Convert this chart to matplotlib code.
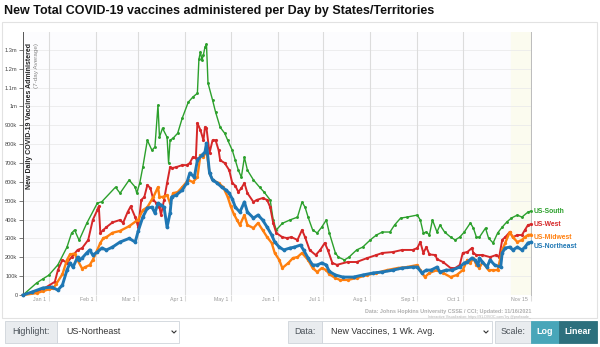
import matplotlib
matplotlib.use('Agg')
import matplotlib.pyplot as plt
import pandas as pd
from matplotlib.patches import Rectangle
from matplotlib.lines import Line2D

plt.rcParams['font.family'] = ['Liberation Sans', 'DejaVu Sans']

# values in thousands of doses per day (7-day average)
south_dates = ['2020-12-15', '2020-12-24', '2020-12-28', '2021-01-01', '2021-01-07', '2021-01-13',
               '2021-01-16', '2021-01-18', '2021-01-21', '2021-01-26', '2021-02-02', '2021-02-05',
               '2021-02-14', '2021-02-17', '2021-02-23', '2021-02-27', '2021-02-28', '2021-03-02',
               '2021-03-04', '2021-03-07', '2021-03-10', '2021-03-12', '2021-03-14', '2021-03-15',
               '2021-03-17', '2021-03-20', '2021-03-21', '2021-03-22', '2021-03-24', '2021-03-27',
               '2021-03-30', '2021-04-03', '2021-04-06', '2021-04-09', '2021-04-10', '2021-04-11',
               '2021-04-12', '2021-04-13', '2021-04-14', '2021-04-15', '2021-04-16', '2021-04-19',
               '2021-04-21', '2021-04-24', '2021-04-27', '2021-04-29', '2021-05-02', '2021-05-04',
               '2021-05-06', '2021-05-08', '2021-05-10', '2021-05-12', '2021-05-16', '2021-05-20',
               '2021-05-23', '2021-05-27', '2021-05-29', '2021-05-31', '2021-06-04', '2021-06-09',
               '2021-06-14', '2021-06-17', '2021-06-19', '2021-06-21', '2021-06-24', '2021-06-27',
               '2021-06-30', '2021-07-03', '2021-07-05', '2021-07-09', '2021-07-11', '2021-07-15',
               '2021-07-18', '2021-07-23', '2021-07-27', '2021-08-01', '2021-08-05', '2021-08-09',
               '2021-08-14', '2021-08-17', '2021-08-21', '2021-08-25', '2021-09-01', '2021-09-03',
               '2021-09-05', '2021-09-07', '2021-09-09', '2021-09-11', '2021-09-14', '2021-09-16',
               '2021-09-19', '2021-09-23', '2021-09-26', '2021-09-29', '2021-10-02', '2021-10-06',
               '2021-10-08', '2021-10-10', '2021-10-12', '2021-10-16', '2021-10-18', '2021-10-21',
               '2021-10-24', '2021-10-27', '2021-10-30', '2021-11-02', '2021-11-06', '2021-11-09',
               '2021-11-13', '2021-11-15']
south_vals = [0, 64, 85, 105, 160, 254,
              328, 345, 290, 380, 487, 495,
              572, 540, 610, 572, 540, 594,
              678, 821, 768, 785, 1007, 837,
              885, 837, 700, 821, 832, 858,
              938, 1023, 1050, 1070, 1250, 1290,
              1245, 1275, 1315, 1330, 1124, 1034,
              970, 890, 858, 821, 768, 715,
              662, 625, 731, 662, 610, 572,
              546, 504, 398, 345, 380, 398,
              413, 493, 466, 413, 345, 329,
              360, 398, 329, 223, 201, 186,
              201, 239, 254, 292, 318, 334,
              334, 371, 408, 413, 424, 398,
              329, 334, 318, 398, 334, 371,
              334, 307, 292, 307, 334, 382,
              355, 307, 307, 355, 302, 276,
              329, 360, 387, 408, 424, 413,
              440, 445]

west_dates = ['2020-12-15', '2020-12-24', '2020-12-28', '2021-01-01', '2021-01-05', '2021-01-07',
              '2021-01-10', '2021-01-13', '2021-01-16', '2021-01-20', '2021-01-23', '2021-01-27',
              '2021-01-30', '2021-02-02', '2021-02-03', '2021-02-04', '2021-02-06', '2021-02-08',
              '2021-02-12', '2021-02-17', '2021-02-19', '2021-02-22', '2021-02-24', '2021-02-27',
              '2021-03-01', '2021-03-03', '2021-03-05', '2021-03-07', '2021-03-09', '2021-03-11',
              '2021-03-13', '2021-03-15', '2021-03-16', '2021-03-18', '2021-03-20', '2021-03-22',
              '2021-03-23', '2021-03-26', '2021-03-30', '2021-04-02', '2021-04-04', '2021-04-06',
              '2021-04-08', '2021-04-09', '2021-04-11', '2021-04-13', '2021-04-14', '2021-04-15',
              '2021-04-17', '2021-04-19', '2021-04-21', '2021-04-23', '2021-04-24', '2021-04-27',
              '2021-04-30', '2021-05-02', '2021-05-04', '2021-05-06', '2021-05-08', '2021-05-10',
              '2021-05-12', '2021-05-16', '2021-05-18', '2021-05-22', '2021-05-25', '2021-05-27',
              '2021-05-29', '2021-05-31', '2021-06-04', '2021-06-07', '2021-06-10', '2021-06-14',
              '2021-06-17', '2021-06-19', '2021-06-22', '2021-06-26', '2021-06-29', '2021-07-02',
              '2021-07-04', '2021-07-07', '2021-07-10', '2021-07-17', '2021-07-23', '2021-07-30',
              '2021-08-05', '2021-08-09', '2021-08-16', '2021-08-22', '2021-08-29', '2021-09-01',
              '2021-09-03', '2021-09-05', '2021-09-07', '2021-09-09', '2021-09-13', '2021-09-14',
              '2021-09-18', '2021-09-23', '2021-09-26', '2021-09-29', '2021-10-01', '2021-10-04',
              '2021-10-07', '2021-10-08', '2021-10-10', '2021-10-14', '2021-10-19', '2021-10-23',
              '2021-10-25', '2021-10-27', '2021-10-29', '2021-11-01', '2021-11-03', '2021-11-06',
              '2021-11-09', '2021-11-11', '2021-11-13', '2021-11-15']
west_vals = [0, 20, 30, 50, 70, 132,
             186, 170, 201, 239, 249, 292,
             398, 450, 470, 329, 345, 360,
             385, 398, 382, 440, 470, 413,
             360, 504, 520, 583, 567, 504,
             487, 466, 424, 504, 594, 678,
             673, 678, 689, 689, 700, 731,
             726, 912, 875, 821, 890, 885,
             753, 821, 821, 768, 715, 700,
             662, 594, 580, 546, 567, 594,
             540, 493, 504, 514, 504, 466,
             382, 329, 307, 302, 307, 292,
             345, 307, 239, 212, 239, 276,
             239, 170, 160, 175, 175, 196,
             212, 223, 228, 239, 239, 249,
             281, 223, 254, 215, 212, 190,
             175, 143, 143, 159, 223, 228,
             249, 223, 212, 212, 201, 212,
             201, 292, 307, 334, 307, 318,
             318, 345, 371, 375]

midwest_dates = ['2020-12-15', '2020-12-24', '2020-12-28', '2021-01-01', '2021-01-04', '2021-01-06',
                 '2021-01-10', '2021-01-13', '2021-01-15', '2021-01-18', '2021-01-20', '2021-01-23',
                 '2021-01-25', '2021-01-28', '2021-01-30', '2021-02-02', '2021-02-04', '2021-02-06',
                 '2021-02-08', '2021-02-12', '2021-02-17', '2021-02-23', '2021-03-01', '2021-03-04',
                 '2021-03-07', '2021-03-11', '2021-03-14', '2021-03-15', '2021-03-17', '2021-03-20',
                 '2021-03-22', '2021-03-24', '2021-03-27', '2021-03-30', '2021-04-03', '2021-04-06',
                 '2021-04-09', '2021-04-11', '2021-04-13', '2021-04-15', '2021-04-17', '2021-04-19',
                 '2021-04-23', '2021-04-26', '2021-04-29', '2021-05-01', '2021-05-03', '2021-05-05',
                 '2021-05-07', '2021-05-10', '2021-05-12', '2021-05-16', '2021-05-19', '2021-05-22',
                 '2021-05-25', '2021-05-28', '2021-05-30', '2021-06-02', '2021-06-04', '2021-06-08',
                 '2021-06-11', '2021-06-14', '2021-06-17', '2021-06-21', '2021-06-24', '2021-06-27',
                 '2021-06-30', '2021-07-03', '2021-07-05', '2021-07-09', '2021-07-12', '2021-07-17',
                 '2021-07-23', '2021-07-30', '2021-08-05', '2021-08-12', '2021-08-19', '2021-08-25',
                 '2021-09-01', '2021-09-03', '2021-09-06', '2021-09-09', '2021-09-14', '2021-09-18',
                 '2021-09-23', '2021-09-27', '2021-10-01', '2021-10-04', '2021-10-06', '2021-10-08',
                 '2021-10-10', '2021-10-12', '2021-10-14', '2021-10-18', '2021-10-21', '2021-10-24',
                 '2021-10-27', '2021-10-29', '2021-11-01', '2021-11-03', '2021-11-06', '2021-11-09',
                 '2021-11-11', '2021-11-13', '2021-11-15']
midwest_vals = [0, 10, 20, 30, 35, 60,
                110, 186, 215, 220, 185, 140,
                148, 159, 186, 239, 276, 302,
                307, 330, 340, 365, 400, 450,
                466, 520, 572, 520, 520, 530,
                487, 540, 546, 572, 610, 599,
                625, 742, 731, 768, 647, 610,
                594, 572, 520, 470, 430, 400,
                371, 424, 371, 355, 382, 345,
                307, 276, 223, 186, 143, 170,
                196, 201, 223, 186, 143, 122,
                143, 132, 110, 90, 80, 80,
                90, 106, 117, 132, 143, 148,
                159, 132, 95, 117, 132, 117,
                95, 106, 132, 186, 170, 196,
                159, 143, 175, 132, 132, 132,
                239, 276, 334, 307, 281, 292,
                307, 318, 320]

northeast_dates = ['2020-12-15', '2020-12-21', '2020-12-28', '2021-01-03', '2021-01-07', '2021-01-10',
                   '2021-01-13', '2021-01-15', '2021-01-17', '2021-01-20', '2021-01-21', '2021-01-23',
                   '2021-01-26', '2021-01-28', '2021-01-30', '2021-02-02', '2021-02-05', '2021-02-08',
                   '2021-02-12', '2021-02-17', '2021-02-23', '2021-02-27', '2021-03-01', '2021-03-04',
                   '2021-03-07', '2021-03-10', '2021-03-12', '2021-03-14', '2021-03-16', '2021-03-18',
                   '2021-03-20', '2021-03-22', '2021-03-23', '2021-03-26', '2021-03-30', '2021-04-02',
                   '2021-04-04', '2021-04-07', '2021-04-09', '2021-04-12', '2021-04-14', '2021-04-15',
                   '2021-04-17', '2021-04-19', '2021-04-22', '2021-04-25', '2021-04-28', '2021-04-30',
                   '2021-05-02', '2021-05-04', '2021-05-07', '2021-05-10', '2021-05-12', '2021-05-16',
                   '2021-05-19', '2021-05-22', '2021-05-25', '2021-05-28', '2021-05-30', '2021-06-02',
                   '2021-06-05', '2021-06-09', '2021-06-12', '2021-06-16', '2021-06-18', '2021-06-21',
                   '2021-06-24', '2021-06-27', '2021-06-30', '2021-07-03', '2021-07-05', '2021-07-09',
                   '2021-07-14', '2021-07-21', '2021-07-27', '2021-08-03', '2021-08-09', '2021-08-16',
                   '2021-08-22', '2021-08-29', '2021-09-01', '2021-09-04', '2021-09-07', '2021-09-10',
                   '2021-09-14', '2021-09-16', '2021-09-20', '2021-09-24', '2021-09-29', '2021-10-02',
                   '2021-10-04', '2021-10-07', '2021-10-09', '2021-10-11', '2021-10-12', '2021-10-14',
                   '2021-10-17', '2021-10-19', '2021-10-22', '2021-10-26', '2021-10-27', '2021-10-29',
                   '2021-11-01', '2021-11-03', '2021-11-06', '2021-11-09', '2021-11-11', '2021-11-13',
                   '2021-11-15']
northeast_vals = [0, 16, 37, 42, 26, 53,
                  132, 170, 148, 201, 186, 196,
                  223, 239, 212, 228, 249, 239,
                  254, 281, 300, 281, 340, 413,
                  461, 466, 435, 487, 477, 466,
                  360, 435, 520, 530, 556, 594,
                  647, 625, 715, 742, 758, 805,
                  647, 610, 594, 572, 556, 540,
                  510, 466, 440, 493, 440, 408,
                  424, 398, 360, 318, 281, 254,
                  239, 249, 254, 265, 239, 196,
                  159, 159, 170, 159, 125, 106,
                  95, 95, 106, 117, 122, 132,
                  143, 148, 148, 117, 132, 132,
                  148, 122, 132, 132, 148, 170,
                  175, 196, 186, 159, 196, 175,
                  148, 186, 159, 148, 223, 249,
                  254, 239, 254, 239, 254, 276,
                  280]

series_names = ['US-South', 'US-West', 'US-Midwest', 'US-Northeast']
series_colors = ['#2ca02c', '#d62728', '#ff7f0e', '#1f77b4']

y_ticks = [0, 100, 200, 300, 400, 500, 600, 700, 800, 900, 1000, 1100, 1200, 1300]
y_labels = ['0', '100k', '200k', '300k', '400k', '500k', '600k', '700k', '800k', '900k',
            '1m', '1.1m', '1.2m', '1.3m']
x_ticks = ['2021-01-01', '2021-02-01', '2021-03-01', '2021-04-01', '2021-05-01', '2021-06-01',
           '2021-07-01', '2021-08-01', '2021-09-01', '2021-10-01', '2021-11-15']
x_labels = ['Jan 1', 'Feb 1', 'Mar 1', 'Apr 1', 'May 1', 'Jun 1', 'Jul 1', 'Aug 1', 'Sep 1',
            'Oct 1', 'Nov 15']

W, H = 600, 347


def fx(px):
    return px / W


def fy(py):
    return 1 - py / H


fig = plt.figure(figsize=(W / 100, H / 100), dpi=100)
fig.patch.set_facecolor('white')

# chart panel border
fig.add_artist(Rectangle((fx(2), fy(318)), fx(595), 296 / H, transform=fig.transFigure,
                         facecolor='white', edgecolor='#e2e2e2', lw=0.8, zorder=0))

ax = fig.add_axes([fx(23), fy(295), fx(531 - 23), (295 - 32) / H])
ax.set_facecolor('#fcfcfe')

x0 = pd.Timestamp('2020-12-15')
x1 = pd.Timestamp('2021-11-15')
ax.set_xlim(x0, x1)
ax.set_ylim(0, 1395)

# light band over the most recent days
ax.axvspan(pd.Timestamp('2021-11-02'), x1, color='#fbfbef', zorder=0)

for v in y_ticks:
    ax.axhline(v, color='#ebebeb', lw=0.6, zorder=1)
for d in x_ticks:
    ax.axvline(pd.Timestamp(d), color='#dcdcdc', lw=0.8, zorder=1)

all_dates = [south_dates, west_dates, midwest_dates, northeast_dates]
all_vals = [south_vals, west_vals, midwest_vals, northeast_vals]
widths = [1.0, 1.4, 1.7, 2.1]
msizes = [2.1, 2.3, 2.4, 2.7]
label_nudge = [0, 0, -2, -3]
for i in range(4):
    dd = pd.to_datetime(all_dates[i])
    ax.plot(dd, all_vals[i], color=series_colors[i], lw=widths[i], marker='o',
            ms=msizes[i], mew=0, zorder=3 + i, clip_on=False)
    ax.annotate(series_names[i], xy=(dd[-1], all_vals[i][-1]), xytext=(2, label_nudge[i]),
                textcoords='offset points', ha='left', va='center', fontsize=4.9,
                fontweight='bold', color=series_colors[i], annotation_clip=False)

ax.set_yticks(y_ticks)
ax.set_yticklabels(y_labels)
ax.tick_params(axis='y', length=3, width=0.6, color='#666', pad=1, labelsize=4.1,
               labelcolor='#444')
ax.set_xticks(pd.to_datetime(x_ticks))
ax.set_xticklabels([])
ax.tick_params(axis='x', length=4, width=0.8, color='#dcdcdc')
for d, lab in zip(x_ticks, x_labels):
    ax.annotate(lab, xy=(pd.Timestamp(d), 0), xycoords=('data', 'axes fraction'),
                xytext=(-2, -3.2), textcoords='offset points', ha='right', va='center',
                fontsize=3.8, color='#999')

for s in ['top', 'bottom']:
    ax.spines[s].set_visible(False)
ax.spines['left'].set_color('#555')
ax.spines['left'].set_linewidth(0.7)
ax.spines['right'].set_color('#bbb')
ax.spines['right'].set_linewidth(0.7)

ax.text(0.012, 0.958, 'New Daily COVID-19 Vaccines Administered', transform=ax.transAxes,
        rotation=90, ha='center', va='top', fontsize=5.0, fontweight='bold', color='#222')
ax.text(0.026, 0.958, '(7-day Average)', transform=ax.transAxes, rotation=90,
        ha='center', va='top', fontsize=4.6, color='#888')

fig.text(fx(4), fy(11), 'New Total COVID-19 vaccines administered per Day by States/Territories',
         fontsize=9, fontweight='bold', color='#111', va='center', ha='left')

fig.text(fx(531), fy(311), 'Data: Johns Hopkins University CSSE / CCI; Updated: 11/16/2021',
         fontsize=3.9, fontweight='bold', color='#b0b0b0', ha='right', va='center')
fig.text(fx(531), fy(317), 'Interactive Visualization: https://91-DIVOC.com/ by @profwade_',
         fontsize=2.6, color='#b0b0b0', ha='right', va='center')


# controls row under the chart
def box(xa, xb, face, edge='#ced4da'):
    fig.add_artist(Rectangle((fx(xa), fy(343)), fx(xb - xa), 22 / H, transform=fig.transFigure,
                             facecolor=face, edgecolor=edge, lw=0.6))


def chevron(xc):
    fig.add_artist(Line2D([fx(xc - 2), fx(xc), fx(xc + 2)], [fy(331), fy(333), fy(331)],
                          transform=fig.transFigure, color='#333', lw=0.8))


box(5, 57, '#e9ecef')
box(57, 179, 'white')
fig.text(fx(31), fy(332), 'Highlight:', fontsize=6.4, color='#495057', ha='center', va='center')
fig.text(fx(66), fy(332), 'US-Northeast', fontsize=6.4, color='#333', ha='left', va='center')
chevron(174)

box(288, 322, '#e9ecef')
box(322, 492, 'white')
fig.text(fx(305), fy(332), 'Data:', fontsize=6.4, color='#495057', ha='center', va='center')
fig.text(fx(331), fy(332), 'New Vaccines, 1 Wk. Avg.', fontsize=6.4, color='#333', ha='left',
         va='center')
chevron(486)

box(495, 531, '#e9ecef')
box(531, 559, '#48a6b9', edge='#48a6b9')
box(559, 597, '#2d707d', edge='#2d707d')
fig.text(fx(513), fy(332), 'Scale:', fontsize=6.4, color='#495057', ha='center', va='center')
fig.text(fx(545), fy(332), 'Log', fontsize=6.4, color='white', fontweight='bold', ha='center',
         va='center')
fig.text(fx(578), fy(332), 'Linear', fontsize=6.4, color='white', fontweight='bold',
         ha='center', va='center')

fig.savefig('out.png', dpi=100, facecolor='white')
